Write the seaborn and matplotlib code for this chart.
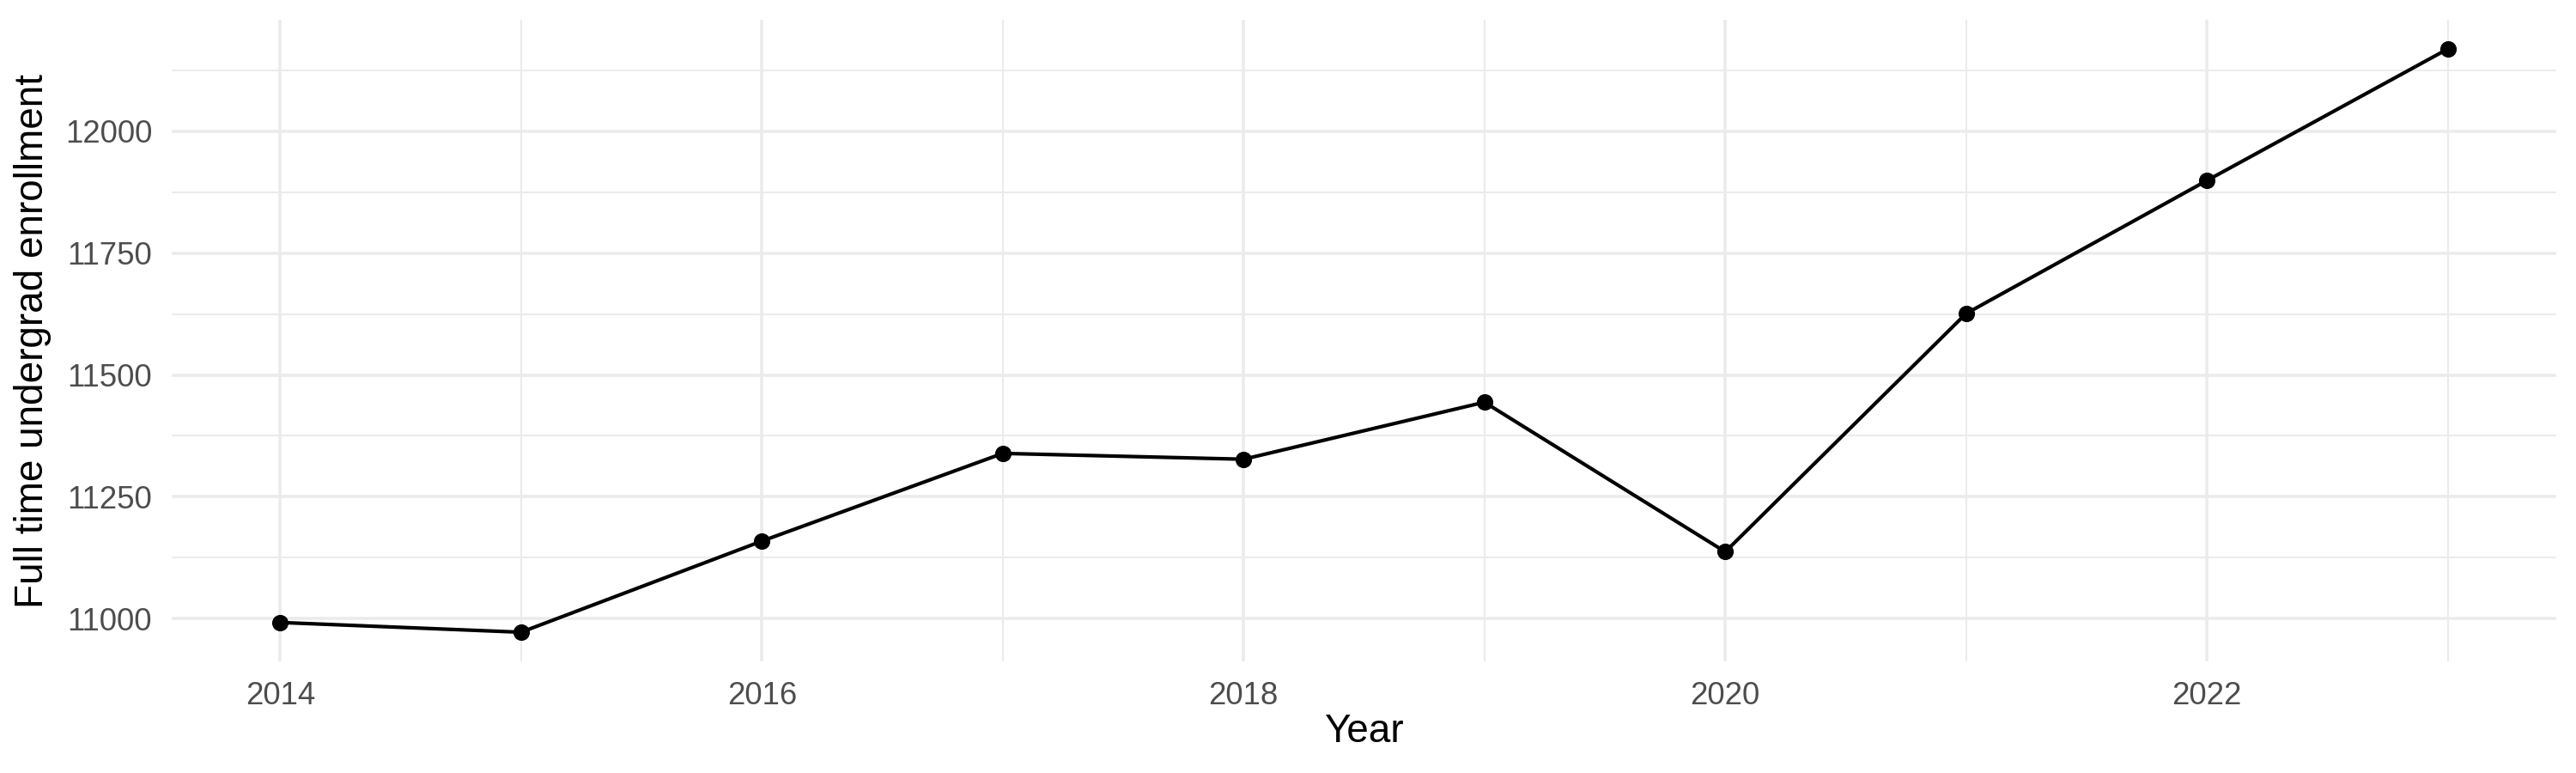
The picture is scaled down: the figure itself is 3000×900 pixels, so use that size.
import pandas as pd
import matplotlib
matplotlib.use('Agg')
import matplotlib.pyplot as plt
from matplotlib.ticker import MultipleLocator
import seaborn as sns

# Values
years = [2014, 2015, 2016, 2017, 2018, 2019, 2020, 2021, 2022, 2023]
enrollment = [10992, 10972, 11159, 11339, 11327, 11444, 11137, 11626, 11899, 12169]

df = pd.DataFrame({'Year': years, 'Full time undergrad enrollment': enrollment})

sns.set_theme(style="white")
plt.rcParams['font.family'] = ['Liberation Sans', 'DejaVu Sans']

fig, ax = plt.subplots(figsize=(10, 3), dpi=300)
fig.subplots_adjust(left=0.0667, right=0.9923, top=0.9744, bottom=0.1444)

sns.lineplot(data=df, x='Year', y='Full time undergrad enrollment', ax=ax,
             color='black', linewidth=1.0, marker='o', markersize=4.6,
             markeredgewidth=0, zorder=3)

# ggplot-like padding (5% of the data range)
xr = max(years) - min(years)
yr = max(enrollment) - min(enrollment)
ax.set_xlim(min(years) - 0.05 * xr, max(years) + 0.05 * xr)
ax.set_ylim(min(enrollment) - 0.05 * yr, max(enrollment) + 0.05 * yr)

ax.xaxis.set_major_locator(MultipleLocator(2))
ax.xaxis.set_minor_locator(MultipleLocator(1))
ax.yaxis.set_major_locator(MultipleLocator(250))
ax.yaxis.set_minor_locator(MultipleLocator(125))

ax.grid(True, which='major', color='#EBEBEB', linewidth=0.85, zorder=0)
ax.grid(True, which='minor', color='#EBEBEB', linewidth=0.5, zorder=0)
ax.set_axisbelow(True)
sns.despine(ax=ax, left=True, bottom=True)

ax.tick_params(axis='both', which='both', length=0, labelsize=8.8, labelcolor='#4D4D4D')
ax.tick_params(axis='x', pad=5.5)
ax.tick_params(axis='y', pad=5.5)

ax.set_xlabel('Year', fontsize=11, color='black')
ax.set_ylabel('Full time undergrad enrollment', fontsize=11, color='black')
ax.xaxis.set_label_coords(0.5, -0.1098)
ax.yaxis.set_label_coords(-0.0583, 0.5)
ax.xaxis.label.set_verticalalignment('center')
ax.yaxis.label.set_verticalalignment('center')

fig.savefig('out.png', dpi=300, facecolor='white')
